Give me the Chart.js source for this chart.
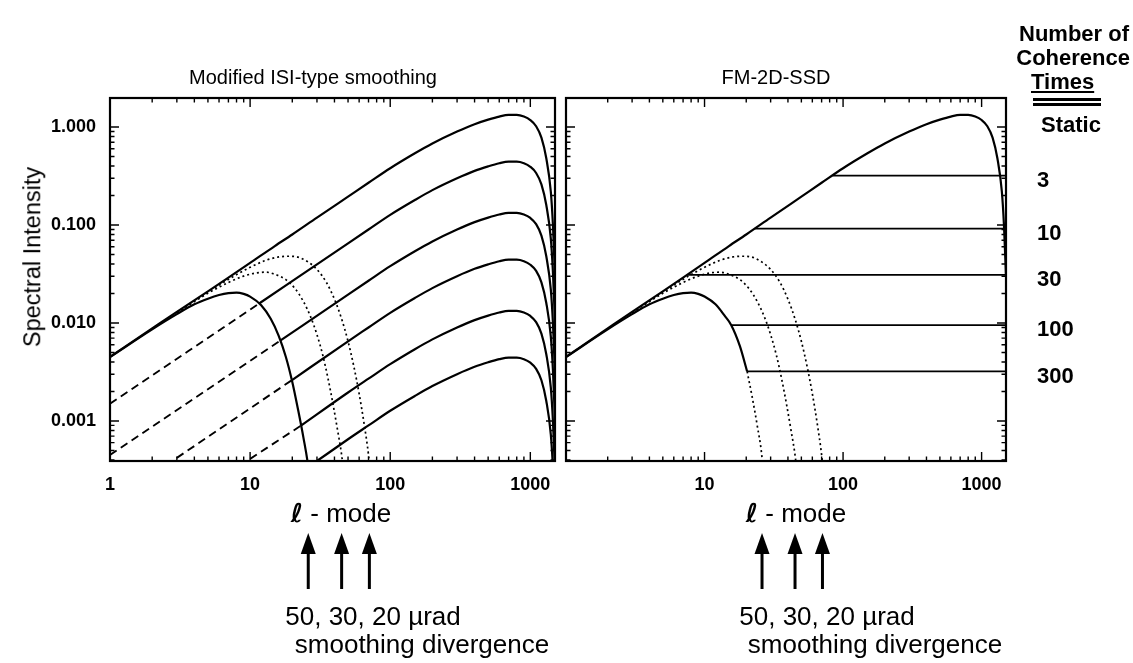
<!DOCTYPE html>
<html>
<head>
<meta charset="utf-8">
<title>Spectral intensity vs l-mode</title>
<script src="https://cdn.jsdelivr.net/npm/chart.js@4.4.1/dist/chart.umd.min.js"></script>
<style>
  html, body { margin: 0; padding: 0; background: #fff; }
  #page { position: relative; width: 1133px; height: 663px; overflow: hidden;
          font-family: "Liberation Sans", Arial, Helvetica, sans-serif; color: #000; }
  canvas { position: absolute; top: 0; }
  .txt { position: absolute; white-space: nowrap; line-height: 1; }
  .c { transform: translate(-50%, -50%); }
  .big { font-size: 26px; }
  .mode i { font-family: "DejaVu Sans", sans-serif; font-weight: bold; }
  .hdr { font-size: 22px; font-weight: bold; }
  .rule { position: absolute; background: #000; height: 3px; }
</style>
</head>
<body>
<div id="page">
  <canvas id="isiChart" width="562" height="663" style="left:0px"></canvas>
  <canvas id="ssdChart" width="573" height="663" style="left:560px"></canvas>

  <div class="txt c" style="left:313px; top:77px; font-size:20px;">Modified ISI-type smoothing</div>
  <div class="txt c" style="left:776px; top:77px; font-size:20px;">FM-2D-SSD</div>
  <div class="txt" style="left:33px; top:257px; font-size:23.5px; transform: translate(-50%,-50%) rotate(-90deg);">Spectral Intensity</div>

  <div class="txt c big mode" style="left:341px; top:513px;"><i>ℓ</i> - mode</div>
  <div class="txt c big mode" style="left:796px; top:513px;"><i>ℓ</i> - mode</div>
  <div class="txt c big" style="left:373px; top:616px;">50, 30, 20 µrad</div>
  <div class="txt c big" style="left:422px; top:644px;">smoothing divergence</div>
  <div class="txt c big" style="left:827px; top:616px;">50, 30, 20 µrad</div>
  <div class="txt c big" style="left:875px; top:644px;">smoothing divergence</div>

  <div class="txt hdr" style="right:4px; top:23px;">Number of</div>
  <div class="txt hdr" style="right:3px; top:47px;">Coherence</div>
  <div class="txt hdr" style="left:1031px; top:71px; text-decoration: underline;">Times</div>
  <div class="rule" style="left:1033px; top:98px; width:68px;"></div>
  <div class="rule" style="left:1033px; top:103px; width:68px;"></div>
  <div class="txt hdr" style="left:1041px; top:114px;">Static</div>
</div>

<script>
// axes
const isiModeTicks = [1, 10, 100, 1000];
const ssdModeTicks = [10, 100, 1000];
const intensityTicks = [0.001, 0.01, 0.1, 1];
const intensityTickLabels = ['0.001', '0.010', '0.100', '1.000'];
const modeDecades = [1, 10, 100, 1000];
const intensityDecades = [0.0001, 0.001, 0.01, 0.1, 1];

// static (no smoothing) spectrum
const headModes = [1, 2, 3, 5, 7, 10, 15, 20, 30];
const staticHead = [0.0045, 0.0088, 0.013, 0.021, 0.029, 0.041, 0.061, 0.08, 0.119];
const tailModes = [50, 70, 100, 150, 200, 300, 400, 500, 600, 700, 800, 900, 1000, 1100, 1200, 1300, 1400, 1450, 1500];
const staticTail = [0.195, 0.27, 0.38, 0.54, 0.68, 0.9, 1.07, 1.19, 1.28, 1.33, 1.33, 1.28, 1.18, 1.02, 0.78, 0.48, 0.22, 0.1, 0.03];

// ISI panel: spectra after 3, 10, 30, 100, 300 coherence times
const coherenceTimes = ['3', '10', '30', '100', '300'];
const coh3Tail = [0.065, 0.09, 0.127, 0.18, 0.227, 0.3, 0.357, 0.397, 0.427, 0.443, 0.443, 0.427, 0.393, 0.34, 0.26, 0.16, 0.073, 0.033, 0.01];
const coh10Tail = [0.0195, 0.027, 0.038, 0.054, 0.068, 0.09, 0.107, 0.119, 0.128, 0.133, 0.133, 0.128, 0.118, 0.102, 0.078, 0.048, 0.022, 0.01, 0.003];
const coh30Tail = [0.0065, 0.009, 0.0127, 0.018, 0.0227, 0.03, 0.0357, 0.0397, 0.0427, 0.0443, 0.0443, 0.0427, 0.0393, 0.034, 0.026, 0.016, 0.0073, 0.0033, 0.001];
const coh100Tail = [0.00195, 0.0027, 0.0038, 0.0054, 0.0068, 0.009, 0.0107, 0.0119, 0.0128, 0.0133, 0.0133, 0.0128, 0.0118, 0.0102, 0.0078, 0.0048, 0.0022, 0.001, 0.0003];
const coh300Tail = [0.00065, 0.0009, 0.00127, 0.0018, 0.00227, 0.003, 0.00357, 0.00397, 0.00427, 0.00443, 0.00443, 0.00427, 0.00393, 0.0034, 0.0026, 0.0016, 0.00073, 0.00033, 0.0001];
// where each curve meets the 50 urad cutoff (dashed to the left of it)
const junctionModes = [11.6, 16.4, 19.8, 23.2, 30];
const junctionValues = [0.0158, 0.0066, 0.0026, 0.0009, 0.00039];
const leadStartModes = [1, 1, 3, 10];
const leadStartValues = [0.0015, 0.00045, 0.00042, 0.00041];

// smoothing cutoffs: 50 urad (solid), 30 and 20 urad (dotted)
const cut50Modes = [1, 2, 3, 4, 5, 6, 7, 8, 9, 10, 12, 14, 16, 18, 20, 22, 24, 26, 27];
const cut50Values = [0.00448, 0.0086, 0.0123, 0.0155, 0.0177, 0.0193, 0.0202, 0.0204, 0.0198, 0.0186, 0.0152, 0.0111, 0.0074, 0.0045, 0.0025, 0.0013, 0.00068, 0.00034, 0.0002];
const cut30Modes = [3, 5, 7, 9, 11, 13, 15, 18, 21, 24, 27, 30, 33, 36, 39, 42, 45, 48];
const cut30Values = [0.0127, 0.0201, 0.0259, 0.0301, 0.0324, 0.033, 0.0314, 0.0277, 0.0223, 0.0166, 0.0116, 0.0076, 0.0047, 0.0027, 0.0015, 0.00082, 0.00045, 0.0002];
const cut20Modes = [3, 5, 8, 10, 13, 16, 19, 22, 26, 30, 35, 40, 45, 50, 55, 60, 65, 70, 74];
const cut20Values = [0.0128, 0.0207, 0.0312, 0.037, 0.0437, 0.0472, 0.048, 0.047, 0.0418, 0.0352, 0.026, 0.0175, 0.011, 0.0065, 0.0036, 0.0019, 0.00095, 0.00045, 0.0002];

// FM-2D-SSD panel
const ssdCutModes = [1, 2, 3, 4, 5, 6, 7, 8, 9, 10, 12, 14, 15.6, 18, 20.3];
const ssdCutValues = [0.00448, 0.0086, 0.0123, 0.0155, 0.0177, 0.0193, 0.0202, 0.0204, 0.0198, 0.0186, 0.0155, 0.0118, 0.0095, 0.0058, 0.0032];
const ssdTailModes = [20.3, 22, 24, 26, 27];
const ssdTailValues = [0.0032, 0.0018, 0.0009, 0.00042, 0.0002];
const plateauStart = [84, 23, 7.5, 15.6, 20.3];
const plateauValues = [0.32, 0.092, 0.031, 0.0095, 0.0032];

// arrows under the axis (smoothing divergence cutoffs)
const arrowModes = [26, 45, 71];

const MODE_MIN = 1, MODE_MAX = 1500;
const INT_MIN = 0.00039, INT_MAX = 1.98;

const pts = (xs, ys) => xs.map((x, i) => ({ x: x, y: ys[i] }));

function curve(data, width, dash) {
  return {
    data: data,
    borderColor: '#000',
    borderWidth: width,
    borderDash: dash || [],
    pointRadius: 0,
    fill: false,
    cubicInterpolationMode: 'monotone'
  };
}

const SOLID = 2.2, DASH = [8, 5], DOT = [2, 3];

// --- plugins ---
const frameTicks = {
  id: 'frameTicks',
  afterDatasetsDraw(chart) {
    const { ctx, chartArea: a } = chart;
    const xs = chart.scales.x, ys = chart.scales.y;
    ctx.save();
    ctx.strokeStyle = '#000';
    ctx.lineWidth = 1.4;
    ctx.beginPath();
    modeDecades.forEach(d => {
      for (let m = 1; m <= 9; m++) {
        const v = d * m;
        if (v <= xs.min || v >= xs.max) continue;
        const px = xs.getPixelForValue(v);
        const len = m === 1 ? 9 : 4.5;
        ctx.moveTo(px, a.bottom); ctx.lineTo(px, a.bottom - len);
        ctx.moveTo(px, a.top); ctx.lineTo(px, a.top + len);
      }
    });
    intensityDecades.forEach(d => {
      for (let m = 1; m <= 9; m++) {
        const v = d * m;
        if (v <= ys.min || v >= ys.max) continue;
        const py = ys.getPixelForValue(v);
        const len = m === 1 ? 9 : 4.5;
        ctx.moveTo(a.left, py); ctx.lineTo(a.left + len, py);
        ctx.moveTo(a.right, py); ctx.lineTo(a.right - len, py);
      }
    });
    ctx.stroke();
    ctx.lineWidth = 2.2;
    ctx.strokeRect(a.left, a.top, a.right - a.left, a.bottom - a.top);
    ctx.restore();
  }
};

const divergenceArrows = {
  id: 'divergenceArrows',
  afterDraw(chart) {
    const { ctx } = chart;
    const xs = chart.scales.x;
    ctx.save();
    ctx.fillStyle = '#000';
    ctx.strokeStyle = '#000';
    ctx.lineWidth = 3;
    arrowModes.forEach(m => {
      const px = xs.getPixelForValue(m);
      ctx.beginPath();
      ctx.moveTo(px, 549); ctx.lineTo(px, 589);
      ctx.stroke();
      ctx.beginPath();
      ctx.moveTo(px, 533); ctx.lineTo(px - 7.5, 554); ctx.lineTo(px + 7.5, 554);
      ctx.closePath();
      ctx.fill();
    });
    ctx.restore();
  }
};

const coherenceLabels = {
  id: 'coherenceLabels',
  afterDraw(chart) {
    const { ctx } = chart;
    const ys = chart.scales.y;
    ctx.save();
    ctx.fillStyle = '#000';
    ctx.font = 'bold 22px "Liberation Sans", Arial, sans-serif';
    ctx.textAlign = 'left';
    ctx.textBaseline = 'middle';
    coherenceTimes.forEach((t, i) => {
      ctx.fillText(t, 477, ys.getPixelForValue(plateauValues[i]) + 5);
    });
    ctx.restore();
  }
};

function axes(modeTicks, yWidth, showY) {
  const tickFont = { family: '"Liberation Sans", Arial, sans-serif', size: 18, weight: 'bold' };
  return {
    x: {
      type: 'logarithmic', position: 'bottom', min: MODE_MIN, max: MODE_MAX,
      grid: { display: false }, border: { display: false },
      afterBuildTicks: s => { s.ticks = modeTicks.map(v => ({ value: v })); },
      afterFit: s => { s.height = 663 - 461; },
      ticks: {
        color: '#000', font: tickFont, padding: 5, autoSkip: false, maxRotation: 0,
        callback: v => String(v)
      }
    },
    y: {
      type: 'logarithmic', position: 'left', min: INT_MIN, max: INT_MAX, display: showY,
      grid: { display: false }, border: { display: false },
      afterBuildTicks: s => { s.ticks = intensityTicks.map(v => ({ value: v })); },
      afterFit: s => { s.width = yWidth; },
      ticks: {
        color: '#000', font: tickFont, padding: 6,
        callback: v => intensityTickLabels[intensityTicks.indexOf(v)]
      }
    }
  };
}

function baseOptions(scales, padLeft, padRight) {
  return {
    responsive: false, animation: false, devicePixelRatio: 1, events: [],
    layout: { padding: { top: 98, right: padRight, bottom: 0, left: padLeft } },
    plugins: { legend: { display: false }, tooltip: { enabled: false } },
    scales: scales
  };
}

// --- Modified ISI-type smoothing ---
const isiSets = [];
isiSets.push(curve(pts(headModes.concat(tailModes), staticHead.concat(staticTail)), SOLID));
const cohTails = [coh3Tail, coh10Tail, coh30Tail, coh100Tail, coh300Tail];
cohTails.forEach((tail, i) => {
  if (i < leadStartModes.length) {
    isiSets.push(curve(pts([leadStartModes[i], junctionModes[i]], [leadStartValues[i], junctionValues[i]]), 1.9, DASH));
  }
  isiSets.push(curve(pts([junctionModes[i]].concat(tailModes), [junctionValues[i]].concat(tail)), SOLID));
});
isiSets.push(curve(pts(cut50Modes, cut50Values), SOLID));
isiSets.push(curve(pts(cut30Modes, cut30Values), 1.7, DOT));
isiSets.push(curve(pts(cut20Modes, cut20Values), 1.7, DOT));

new Chart(document.getElementById('isiChart'), {
  type: 'line',
  data: { datasets: isiSets },
  options: baseOptions(axes(isiModeTicks, 110, true), 0, 7),
  plugins: [frameTicks, divergenceArrows]
});

// --- FM-2D-SSD ---
const ssdSets = [];
ssdSets.push(curve(pts(headModes.concat(tailModes), staticHead.concat(staticTail)), SOLID));
plateauValues.forEach((v, i) => {
  ssdSets.push(curve(pts([plateauStart[i], MODE_MAX], [v, v]), 1.8));
});
ssdSets.push(curve(pts(ssdCutModes, ssdCutValues), SOLID));
ssdSets.push(curve(pts(ssdTailModes, ssdTailValues), 1.7, DOT));
ssdSets.push(curve(pts(cut30Modes, cut30Values), 1.7, DOT));
ssdSets.push(curve(pts(cut20Modes, cut20Values), 1.7, DOT));

new Chart(document.getElementById('ssdChart'), {
  type: 'line',
  data: { datasets: ssdSets },
  options: baseOptions(axes(ssdModeTicks, 0, false), 6, 127),
  plugins: [frameTicks, divergenceArrows, coherenceLabels]
});
</script>
</body>
</html>
